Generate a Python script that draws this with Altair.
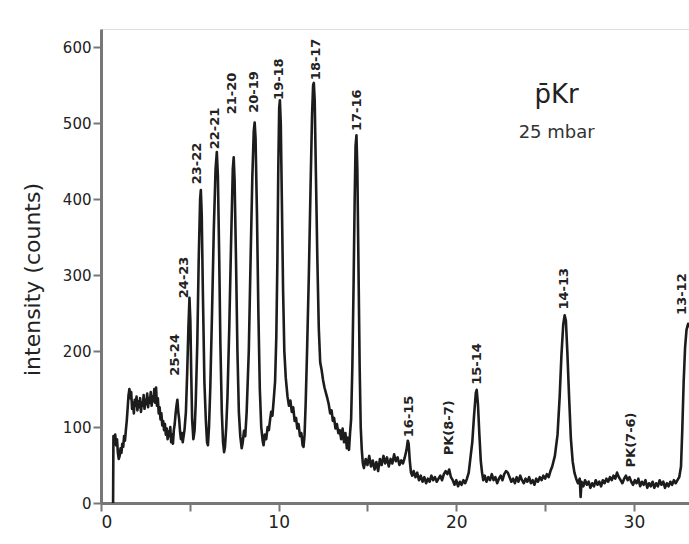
import altair as alt
import pandas as pd

# Antiprotonic krypton X-ray spectrum at 25 mbar: energy (keV) vs counts
energy_low = [0.68, 0.70, 0.75, 0.80, 0.85, 0.90, 0.95, 1.00, 1.05, 1.10, 1.15, 1.20, 1.25, 1.30, 1.35,
              1.40, 1.45, 1.50, 1.55, 1.60, 1.65, 1.70, 1.75, 1.80, 1.85, 1.90, 1.95, 2.00, 2.05, 2.10,
              2.15, 2.20, 2.25, 2.30, 2.35, 2.40, 2.45, 2.50, 2.55, 2.60, 2.65, 2.70, 2.75, 2.80, 2.85,
              2.90, 2.95, 3.00, 3.05, 3.10, 3.15, 3.20, 3.25, 3.30, 3.35, 3.40, 3.45, 3.50, 3.55, 3.60,
              3.65, 3.70, 3.75, 3.80, 3.85, 3.90, 3.95, 4.00, 4.05, 4.10, 4.15, 4.20, 4.25, 4.30, 4.35,
              4.40, 4.45, 4.50, 4.55, 4.60, 4.65]
counts_low = [0, 88, 82, 90, 76, 84, 66, 58, 62, 72, 66, 78, 74, 88, 82,
              96, 108, 125, 142, 150, 138, 146, 124, 132, 118, 136, 128, 140, 122, 134,
              126, 138, 120, 132, 128, 142, 124, 136, 130, 144, 126, 138, 132, 146, 128,
              140, 134, 150, 132, 152, 128, 138, 118, 126, 110, 118, 102, 108, 96, 104,
              90, 98, 84, 94, 88, 100, 80, 90, 78, 96, 104, 118, 128, 136, 120,
              110, 94, 84, 92, 80, 88]

energy_lines = [4.70, 4.78, 4.85, 4.92, 4.98, 5.03, 5.08, 5.13, 5.20, 5.27,
                5.33, 5.42, 5.50, 5.58, 5.62, 5.67, 5.74, 5.82, 5.90, 5.97, 6.02, 6.08,
                6.15, 6.25, 6.35, 6.45, 6.52, 6.58, 6.65, 6.72, 6.80, 6.87, 6.93, 6.98, 7.05,
                7.12, 7.22, 7.32, 7.42, 7.47, 7.52, 7.60, 7.68, 7.76, 7.84, 7.92, 7.98, 8.05, 8.12,
                8.20, 8.32, 8.42, 8.52, 8.60, 8.65, 8.70, 8.78, 8.86, 8.94, 9.02, 9.10, 9.15, 9.22,
                9.30, 9.38, 9.45, 9.52, 9.58, 9.65, 9.72, 9.80, 9.87, 9.93, 9.98, 10.03, 10.07,
                10.12, 10.18, 10.25, 10.32, 10.40, 10.50, 10.58, 10.66, 10.74, 10.82, 10.90, 10.98,
                11.05, 11.12, 11.20, 11.28, 11.35, 11.40, 11.46,
                11.52, 11.60, 11.70, 11.80, 11.88, 11.94, 11.98, 12.03, 12.10, 12.18, 12.26, 12.34,
                12.42, 12.50, 12.58, 12.66, 12.74, 12.82, 12.90, 12.98, 13.05, 13.12, 13.20, 13.28,
                13.36, 13.44, 13.52, 13.60, 13.68, 13.76, 13.84, 13.90, 13.96, 14.02,
                14.08, 14.15, 14.22, 14.28, 14.33, 14.38, 14.43, 14.50, 14.56, 14.62, 14.68, 14.74, 14.80]
counts_lines = [96, 120, 170, 230, 270, 240, 170, 110, 84, 96,
                130, 210, 320, 400, 412, 380, 270, 160, 110, 80, 76, 100,
                150, 250, 360, 440, 462, 430, 330, 210, 120, 80, 67, 74, 100,
                140, 230, 340, 440, 455, 425, 320, 200, 120, 88, 72, 80, 95, 88,
                120, 200, 320, 430, 490, 501, 480, 380, 250, 150, 100, 82, 76, 90,
                84, 100, 96, 110, 120, 115, 135, 160, 220, 320, 440, 520, 530,
                500, 400, 280, 200, 165, 140, 128, 135, 120, 126, 108, 112,
                98, 104, 88, 92, 76, 74, 90,
                130, 200, 300, 420, 510, 550, 553, 530, 430, 320, 230, 185,
                175, 162, 152, 145, 138, 130, 118, 122, 108, 112, 98, 104,
                92, 96, 84, 98, 80, 92, 72, 86, 70, 92,
                110, 180, 290, 400, 470, 484, 440, 300, 180, 100, 70, 52, 46]

energy_tail = [14.9, 15.0, 15.1, 15.2, 15.3, 15.4, 15.5, 15.6, 15.7, 15.8, 15.9, 16.0, 16.1, 16.2,
               16.3, 16.4, 16.5, 16.6, 16.7, 16.8, 16.9, 17.0, 17.1,
               17.2, 17.27, 17.32, 17.38, 17.45, 17.52,
               17.6, 17.7, 17.8, 17.9, 18.0, 18.1, 18.2, 18.3, 18.4, 18.5, 18.6, 18.7, 18.8, 18.9,
               19.0, 19.1, 19.2, 19.3, 19.4, 19.5, 19.6, 19.7, 19.8, 19.9, 20.0, 20.1, 20.2, 20.3,
               20.4, 20.5, 20.6, 20.7, 20.8,
               20.9, 21.0, 21.1, 21.15, 21.22, 21.3, 21.38, 21.45, 21.52,
               21.6, 21.7, 21.8, 21.9, 22.0, 22.1, 22.2, 22.3, 22.4, 22.5, 22.6, 22.7, 22.8, 22.9,
               23.0, 23.1, 23.2, 23.3, 23.4, 23.5, 23.6, 23.7, 23.8, 23.9, 24.0, 24.1, 24.2, 24.3,
               24.4, 24.5, 24.6, 24.7, 24.8, 24.9, 25.0, 25.1, 25.2, 25.3,
               25.4, 25.55, 25.7, 25.82, 25.92, 26.02, 26.1, 26.17, 26.25, 26.35, 26.45, 26.55,
               26.65, 26.75,
               26.85, 26.95, 27.0, 27.05, 27.15, 27.25, 27.35, 27.45, 27.55, 27.65, 27.75, 27.85,
               27.95, 28.05, 28.15, 28.25, 28.35, 28.45, 28.55, 28.65, 28.75, 28.85, 28.95, 29.05,
               29.15, 29.25, 29.35, 29.45, 29.55, 29.65, 29.75, 29.85, 29.95, 30.05, 30.15, 30.25,
               30.35, 30.45, 30.55, 30.65, 30.75, 30.85, 30.95, 31.05, 31.15, 31.25, 31.35, 31.45,
               31.55, 31.65, 31.75, 31.85, 31.95, 32.05, 32.15, 32.25, 32.35, 32.45, 32.55,
               32.65, 32.72, 32.80, 32.88, 32.96, 33.05, 33.15]
counts_tail = [58, 50, 62, 48, 56, 44, 54, 42, 58, 50, 62, 52, 60, 48,
               58, 52, 64, 55, 60, 50, 56, 52, 60,
               70, 82, 78, 56, 40, 36,
               42, 34, 40, 30, 36, 28, 34, 26, 32, 28, 36, 30, 34, 28,
               32, 36, 30, 38, 42, 38, 44, 34, 30, 24, 30, 22, 28, 24,
               30, 26, 32, 40, 60,
               80, 115, 145, 149, 130, 90, 55, 40, 30,
               36, 28, 34, 30, 38, 30, 34, 26, 32, 36, 30, 38, 42, 40,
               34, 28, 32, 26, 34, 28, 36, 30, 26, 32, 28, 34, 26, 30,
               24, 32, 28, 34, 30, 36, 32, 38, 34, 42,
               48, 62, 90, 140, 195, 235, 247, 240, 200, 140, 85, 55,
               40, 32,
               26, 32, 8, 28, 22, 30, 24, 28, 20, 26, 22, 30,
               24, 28, 22, 30, 26, 32, 28, 34, 30, 36, 32, 40,
               34, 30, 26, 32, 36, 30, 34, 28, 24, 30, 26, 32,
               22, 28, 24, 30, 20, 26, 22, 28, 20, 26, 22, 30,
               24, 28, 20, 26, 22, 28, 24, 30, 26, 30, 34,
               48, 95, 160, 205, 228, 236, 232]

# Transition labels (n_i - n_f) and where they sit, in data units
peak_names = ["25-24", "24-23", "23-22", "22-21", "21-20", "20-19", "19-18", "18-17",
              "17-16", "16-15", "PK(8-7)", "15-14", "14-13", "PK(7-6)", "13-12"]
peak_label_x = [4.16, 4.67, 5.40, 6.42, 7.37, 8.61, 10.02, 12.10,
                14.41, 17.33, 19.58, 21.16, 26.06, 29.83, 32.72]
peak_label_y = [195, 297, 447, 493, 539, 541, 558, 584,
                517, 114, 99, 183, 282, 83, 275]

spectrum = pd.DataFrame({
    "energy": energy_low + energy_lines + energy_tail,
    "counts": counts_low + counts_lines + counts_tail,
})
labels = pd.DataFrame({"name": peak_names, "x": peak_label_x, "y": peak_label_y})

x_scale = alt.Scale(domain=[0, 33.1], nice=False, zero=False)
y_scale = alt.Scale(domain=[0, 624], nice=False)

x_axis = alt.Axis(
    values=[0, 5, 10, 15, 20, 25, 30],
    labelExpr="datum.value % 10 == 0 ? datum.label : ''",
    title=None, grid=False, tickSize=8, tickWidth=2, tickColor="#777",
    domainColor="#777", domainWidth=3, labelFont="DejaVu Sans", labelFontSize=17,
    labelColor="#222", labelPadding=3,
)
y_axis = alt.Axis(
    values=list(range(0, 601, 50)),
    labelExpr="datum.value % 100 == 0 ? datum.label : ''",
    title="intensity (counts)", grid=False, tickSize=8, tickWidth=2, tickColor="#777",
    domainColor="#777", domainWidth=3, labelFont="DejaVu Sans", labelFontSize=15,
    labelColor="#222", labelPadding=2,
    titleFont="DejaVu Sans", titleFontSize=22, titleFontWeight="normal", titleColor="#222",
    titleX=-69, titleY=250, titleAngle=270, titleAlign="center", titleBaseline="middle",
)

trace = alt.Chart(spectrum).mark_line(
    color="#1c1c1c", strokeWidth=2.6, clip=True, strokeJoin="round"
).encode(
    x=alt.X("energy:Q", scale=x_scale, axis=x_axis),
    y=alt.Y("counts:Q", scale=y_scale, axis=y_axis),
)

peak_text = alt.Chart(labels).mark_text(
    angle=270, align="center", baseline="middle", font="DejaVu Sans",
    fontWeight="bold", fontSize=13, color="#222"
).encode(
    x=alt.X("x:Q", scale=x_scale),
    y=alt.Y("y:Q", scale=y_scale),
    text="name:N",
)

notes = pd.DataFrame({
    "x": [25.65, 25.65],
    "y": [527, 480],
    "t": ["p\u0304Kr", "25 mbar"],
})
note_big = alt.Chart(notes.iloc[[0]]).mark_text(
    align="center", baseline="alphabetic", font="DejaVu Sans", fontSize=26, color="#222"
).encode(x=alt.X("x:Q", scale=x_scale), y=alt.Y("y:Q", scale=y_scale), text="t:N")
note_small = alt.Chart(notes.iloc[[1]]).mark_text(
    align="center", baseline="alphabetic", font="DejaVu Sans", fontSize=18, color="#333"
).encode(x=alt.X("x:Q", scale=x_scale), y=alt.Y("y:Q", scale=y_scale), text="t:N")

chart = alt.layer(trace, peak_text, note_big, note_small).properties(
    width=588, height=474,
    autosize=alt.AutoSizeParams(type="none"),
    padding={"left": 101, "top": 29, "right": 0, "bottom": 41},
).configure_view(stroke="#777", strokeWidth=3).configure(background="white")

chart.save("out.html", embed_options={"renderer": "svg", "actions": False})
